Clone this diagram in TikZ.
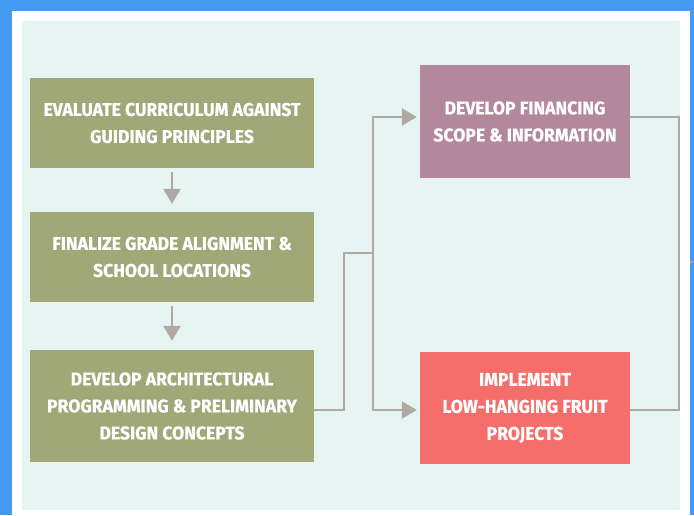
\documentclass[tikz,border=0pt]{standalone}
\usepackage{fontspec}
\setmainfont{Fira Sans}[FakeStretch=0.95, BoldFeatures={FakeBold=0.6}]
\usepackage{xcolor}
\usetikzlibrary{arrows.meta}
\definecolor{frameblue}{HTML}{4499F0}
\definecolor{paleteal}{HTML}{E6F5F2}
\definecolor{stepgreen}{HTML}{A0A878}
\definecolor{mauve}{HTML}{B3889C}
\definecolor{coral}{HTML}{F56E69}
\definecolor{linkgray}{HTML}{B0A9A2}
\begin{document}
\begin{tikzpicture}[x=1pt,y=-1pt]
\tikzstyle{stepbox}=[fill=stepgreen, text=white, font=\bfseries\fontsize{18.5}{27}\selectfont, align=center, minimum width=284pt, minimum height=90pt, inner sep=0pt]
\tikzstyle{sidebox}=[stepbox, minimum width=210pt, minimum height=112pt]
\tikzstyle{link}=[draw=linkgray, line width=2.6pt]
\tikzstyle{tip}=[-{Triangle[width=17pt,length=15pt]}]
\useasboundingbox (0,0) rectangle (694,515);
\fill [frameblue] (0,0) rectangle (694,515);
\fill [white] (12,11) rectangle (690,515);
\fill [paleteal] (22,21) rectangle (680,510);
\node [stepbox] (eval) at (172,123) {EVALUATE CURRICULUM AGAINST\\GUIDING PRINCIPLES};
\node [stepbox] (final) at (172,257) {FINALIZE GRADE ALIGNMENT \&\\SCHOOL LOCATIONS};
\node [stepbox, minimum height=112pt] (arch) at (172,406) {DEVELOP ARCHITECTURAL\\PROGRAMMING \& PRELIMINARY\\DESIGN CONCEPTS};
\node [sidebox, fill=mauve, minimum height=113pt] (fin) at (525,121.5) {DEVELOP FINANCING\\SCOPE \& INFORMATION};
\node [sidebox, fill=coral] (fruit) at (525,408) {IMPLEMENT\\LOW-HANGING FRUIT\\PROJECTS};
\coordinate (bend) at (344,253);
\coordinate (split) at (373,253);
\coordinate (gather) at (679,262);
\draw [link, tip, shorten <=4pt, shorten >=8pt] (eval) -- (final);
\draw [link, tip, shorten <=4pt, shorten >=9pt] (final) -- (arch);
\draw [link] ([yshift=-4pt]arch.east) -| (bend) -- (split);
\draw [link, tip, shorten >=3pt] (split) |- ([yshift=4.5pt]fin.west);
\draw [link, tip, shorten >=3pt] (split) |- ([yshift=-2pt]fruit.west);
\draw [link] ([yshift=4.5pt]fin.east) -| (gather);
\draw [link] ([yshift=-2pt]fruit.east) -| (gather);
\draw [link] (689.5,262) -- (693,262);
\end{tikzpicture}
\end{document}
